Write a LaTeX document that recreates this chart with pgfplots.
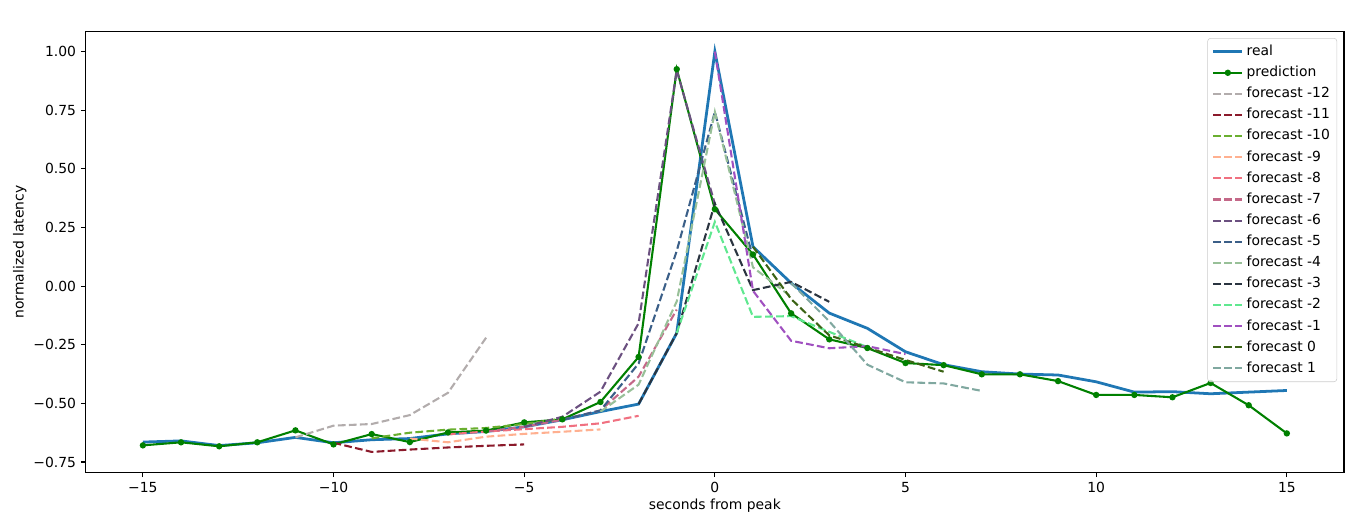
\documentclass[border=0pt]{standalone}
\usepackage{pgfplots}
\pgfplotsset{compat=1.18}
\usepackage{fontspec}
\setmainfont{DejaVu Sans}
\definecolor{creal}{HTML}{1F77B4}
\definecolor{cpred}{HTML}{008000}
\definecolor{fA}{HTML}{B2ACAC}
\definecolor{fB}{HTML}{8B1A2B}
\definecolor{fC}{HTML}{6AAF30}
\definecolor{fD}{HTML}{FFB090}
\definecolor{fE}{HTML}{F07080}
\definecolor{fF}{HTML}{C46888}
\definecolor{fG}{HTML}{6B5080}
\definecolor{fH}{HTML}{3B5F88}
\definecolor{fI}{HTML}{98C098}
\definecolor{fJ}{HTML}{2A3440}
\definecolor{fK}{HTML}{60E890}
\definecolor{fL}{HTML}{A050C0}
\definecolor{fM}{HTML}{3B6315}
\definecolor{fN}{HTML}{80A8A0}
\begin{document}
\begin{tikzpicture}
\useasboundingbox (-61.7pt,-35.8pt) rectangle (920.9pt,340pt);
\begin{axis}[
  at={(0,0)}, anchor=south west,
  scale only axis, width=905.8pt, height=317.2pt,
  xmin=-16.5, xmax=16.5, ymin=-0.794, ymax=1.085,
  xtick={-15,-10,-5,0,5,10,15},
  xticklabels={−15,−10,−5,0,5,10,15},
  ytick={-0.75,-0.5,-0.25,0,0.25,0.5,0.75,1},
  yticklabels={−0.75,−0.50,−0.25,0.00,0.25,0.50,0.75,1.00},
  xtick pos=bottom, ytick pos=left,
  tick align=outside, major tick length=3.5pt,
  tick style={black, line width=0.8pt},
  axis line style={line width=0.8pt},
  tick label style={font=\fontsize{10}{12}\selectfont},
  label style={font=\fontsize{10}{12}\selectfont},
  xlabel={seconds from peak}, ylabel={normalized latency},
  xlabel style={yshift=2pt},
  ylabel style={yshift=-2pt},
  legend cell align=left,
  legend image code/.code={\draw[mark repeat=2, mark phase=2, #1] plot coordinates {(0pt,0pt) (10.5pt,0pt) (21pt,0pt)};},
  legend style={at={(rel axis cs:0.9945,0.9855)}, anchor=north east,
    font=\fontsize{10}{12}\selectfont, draw=black!20, rounded corners=2pt,
    fill=white, fill opacity=0.8, text opacity=1,
    nodes={text height=7.5pt, text depth=2pt, inner ysep=2.85pt}},
  every axis plot/.append style={line width=1.5pt},
  fdash/.style={dash pattern=on 5.55pt off 2.4pt, line width=1.5pt},
]
\addplot[creal, line width=2pt, no marks] coordinates {
(-15,-0.665) (-14,-0.66) (-13,-0.68) (-12,-0.668) (-11,-0.645) (-10,-0.668)
(-9,-0.655) (-8,-0.65) (-7,-0.63) (-6,-0.62) (-5,-0.60) (-4,-0.57) (-3,-0.535)
(-2,-0.503) (-1,-0.20) (0,1.00) (1,0.168) (2,0.013) (3,-0.115) (4,-0.18)
(5,-0.28) (6,-0.335) (7,-0.365) (8,-0.375) (9,-0.379) (10,-0.408) (11,-0.452)
(12,-0.45) (13,-0.459) (14,-0.452) (15,-0.445)};
\addlegendentry{real}
\addplot[cpred, mark=*, mark size=1.5pt, line width=1.5pt] coordinates {
(-15,-0.679) (-14,-0.666) (-13,-0.683) (-12,-0.666) (-11,-0.615) (-10,-0.675)
(-9,-0.631) (-8,-0.665) (-7,-0.624) (-6,-0.616) (-5,-0.581) (-4,-0.568)
(-3,-0.494) (-2,-0.302) (-1,0.925) (0,0.328) (1,0.135) (2,-0.116) (3,-0.227)
(4,-0.264) (5,-0.328) (6,-0.337) (7,-0.376) (8,-0.376) (9,-0.405) (10,-0.464)
(11,-0.464) (12,-0.474) (13,-0.413) (14,-0.508) (15,-0.628)};
\addlegendentry{prediction}
\addplot[fA, fdash, no marks] coordinates {(-11,-0.645) (-10,-0.595) (-9,-0.588) (-8,-0.55) (-7,-0.455) (-6,-0.22)};
\addlegendentry{forecast -12}
\addplot[fB, fdash, no marks] coordinates {(-10,-0.668) (-9,-0.707) (-8,-0.697) (-7,-0.688) (-6,-0.681) (-5,-0.675)};
\addlegendentry{forecast -11}
\addplot[fC, fdash, no marks] coordinates {(-9,-0.649) (-8,-0.625) (-7,-0.612) (-6,-0.605) (-5,-0.588) (-4,-0.565)};
\addlegendentry{forecast -10}
\addplot[fD, fdash, no marks] coordinates {(-8,-0.65) (-7,-0.666) (-6,-0.642) (-5,-0.63) (-4,-0.621) (-3,-0.611)};
\addlegendentry{forecast -9}
\addplot[fE, fdash, no marks] coordinates {(-7,-0.632) (-6,-0.62) (-5,-0.61) (-4,-0.60) (-3,-0.585) (-2,-0.553)};
\addlegendentry{forecast -8}
\addplot[fF, fdash, no marks] coordinates {(-6,-0.62) (-5,-0.60) (-4,-0.57) (-3,-0.53) (-2,-0.386) (-1,-0.10)};
\addlegendentry{forecast -7}
\addplot[fG, fdash, no marks] coordinates {(-5,-0.60) (-4,-0.557) (-3,-0.45) (-2,-0.158) (-1,0.92) (0,0.35)};
\addlegendentry{forecast -6}
\addplot[fH, fdash, no marks] coordinates {(-4,-0.57) (-3,-0.53) (-2,-0.33) (-1,0.15) (0,0.743) (1,0.12)};
\addlegendentry{forecast -5}
\addplot[fI, fdash, no marks] coordinates {(-3,-0.535) (-2,-0.42) (-1,-0.065) (0,0.743) (1,0.08) (2,-0.045)};
\addlegendentry{forecast -4}
\addplot[fJ, fdash, no marks] coordinates {(-2,-0.503) (-1,-0.20) (0,0.352) (1,-0.017) (2,0.018) (3,-0.067)};
\addlegendentry{forecast -3}
\addplot[fK, fdash, no marks] coordinates {(-1,-0.20) (0,0.274) (1,-0.131) (2,-0.128) (3,-0.195) (4,-0.26)};
\addlegendentry{forecast -2}
\addplot[fL, fdash, no marks] coordinates {(0,1.00) (1,-0.02) (2,-0.233) (3,-0.265) (4,-0.256) (5,-0.29)};
\addlegendentry{forecast -1}
\addplot[fM, fdash, no marks] coordinates {(1,0.168) (2,-0.055) (3,-0.21) (4,-0.262) (5,-0.315) (6,-0.365)};
\addlegendentry{forecast 0}
\addplot[fN, fdash, no marks] coordinates {(2,0.013) (3,-0.15) (4,-0.335) (5,-0.41) (6,-0.415) (7,-0.447)};
\addlegendentry{forecast 1}
\end{axis}
\end{tikzpicture}
\end{document}
